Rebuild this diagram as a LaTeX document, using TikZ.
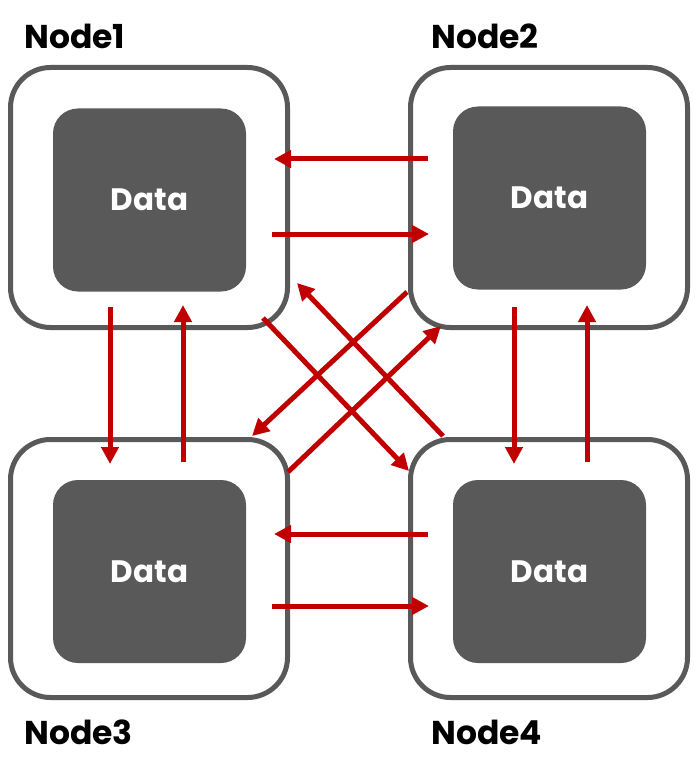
\documentclass[tikz,border=0pt]{standalone}
\usepackage{fontspec}
\setmainfont{Poppins}
\usetikzlibrary{arrows.meta}
\definecolor{boxgray}{HTML}{595959}
\definecolor{arrred}{HTML}{C00000}
\tikzset{
  outerbox/.style={draw=boxgray, line width=5pt, rounded corners=40pt, minimum width=277pt, minimum height=260pt, inner sep=0pt, fill=white},
  innerbox/.style={fill=boxgray, rounded corners=25pt, minimum width=193pt, minimum height=183pt, inner sep=0pt, text=white, font=\bfseries\fontsize{31}{34}\selectfont},
  lbl/.style={font=\bfseries\fontsize{33}{36}\selectfont, inner sep=0pt, anchor=west},
  arr/.style={draw=arrred, line width=5pt, -{Triangle[length=17pt,width=17pt]}}
}
\begin{document}
\begin{tikzpicture}[x=1pt,y=-1pt]
\useasboundingbox (0,0) rectangle (694,778);
\node[outerbox] (o1) at (149,197.5) {};
\node[outerbox] (o2) at (549,197.5) {};
\node[outerbox, minimum height=258pt] (o3) at (149,568.5) {};
\node[outerbox, minimum height=258pt] (o4) at (549,568.5) {};
\node[innerbox] (d1) at (149.5,200) {Data};
\node[innerbox] (d2) at (549.5,198) {Data};
\node[innerbox] (d3) at (149.5,571.5) {Data};
\node[innerbox] (d4) at (549.5,571.5) {Data};
\node[lbl] (l1) at (24,36) {Node1};
\node[lbl] (l2) at (431,36) {Node2};
\node[lbl] (l3) at (24,732) {Node3};
\node[lbl] (l4) at (431,732) {Node4};
% horizontal
\coordinate (a1s) at (428,159); \coordinate (a1e) at (274,159);
\coordinate (a2s) at (272,234); \coordinate (a2e) at (429,234);
\coordinate (a3s) at (428,534); \coordinate (a3e) at (274,534);
\coordinate (a4s) at (272,606); \coordinate (a4e) at (429,606);
% vertical
\coordinate (v1s) at (110,307); \coordinate (v1e) at (110,464);
\coordinate (v2s) at (183,462); \coordinate (v2e) at (183,305);
\coordinate (v3s) at (514,307); \coordinate (v3e) at (514,464);
\coordinate (v4s) at (587,462); \coordinate (v4e) at (587,305);
% diagonal
\coordinate (g1s) at (263,318); \coordinate (g1e) at (409,471);
\coordinate (g2s) at (443,436); \coordinate (g2e) at (297,283);
\coordinate (g3s) at (407,292); \coordinate (g3e) at (252,436);
\coordinate (g4s) at (288,472); \coordinate (g4e) at (441,326);
\foreach \a in {a1,a2,a3,a4,v1,v2,v3,v4,g1,g2,g3,g4}
  \draw[arr] (\a s) -- (\a e);
\end{tikzpicture}
\end{document}
